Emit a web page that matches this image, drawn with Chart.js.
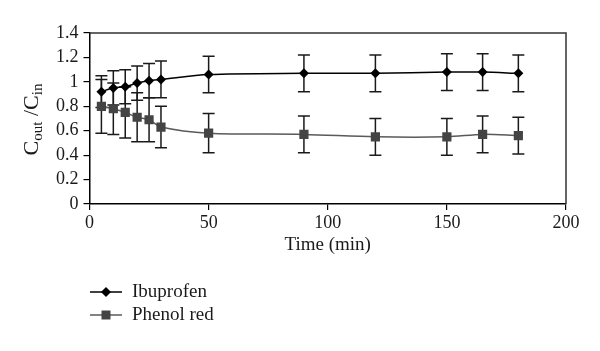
<!DOCTYPE html>
<html>
<head>
<meta charset="utf-8">
<script src="https://cdn.jsdelivr.net/npm/chart.js@4"></script>
<style>
html,body{margin:0;padding:0;background:#fff}
#wrap{width:600px;height:351px;position:relative}
</style>
</head>
<body>
<div id="wrap"><canvas id="c"></canvas></div>
<script>
const times = [5, 10, 15, 20, 25, 30, 50, 90, 120, 150, 165, 180]
const ibuprofen = [0.92, 0.95, 0.96, 0.99, 1.01, 1.02, 1.06, 1.07, 1.07, 1.08, 1.08, 1.07]
const ibuprofenErr = [0.13, 0.14, 0.14, 0.14, 0.14, 0.15, 0.15, 0.15, 0.15, 0.15, 0.15, 0.15]
const phenolRed = [0.80, 0.78, 0.75, 0.71, 0.69, 0.63, 0.58, 0.57, 0.55, 0.55, 0.57, 0.56]
const phenolRedErr = [0.22, 0.21, 0.21, 0.20, 0.18, 0.17, 0.16, 0.15, 0.15, 0.15, 0.15, 0.15]
const xTicks = [0, 50, 100, 150, 200]
const yTicks = [0, 0.2, 0.4, 0.6, 0.8, 1, 1.2, 1.4]

const serif = "'Liberation Serif', 'DejaVu Serif', serif"

function pts(ys){
  return times.map((t, i) => ({x: t, y: ys[i]}))
}

// error bars, plot frame, y title and legend
const extras = {
  id: "extras",
  beforeDatasetsDraw(chart){
    const ctx = chart.ctx
    const xs = chart.scales.x, ys = chart.scales.y
    const sets = [[ibuprofen, ibuprofenErr], [phenolRed, phenolRedErr]]
    ctx.save()
    ctx.strokeStyle = "#1a1a1a"
    ctx.lineWidth = 1.5
    sets.forEach(([vals, errs]) => {
      vals.forEach((v, i) => {
        const px = xs.getPixelForValue(times[i])
        const top = ys.getPixelForValue(v + errs[i])
        const bot = ys.getPixelForValue(v - errs[i])
        ctx.beginPath()
        ctx.moveTo(px, top); ctx.lineTo(px, bot)
        ctx.moveTo(px - 6, top); ctx.lineTo(px + 6, top)
        ctx.moveTo(px - 6, bot); ctx.lineTo(px + 6, bot)
        ctx.stroke()
      })
    })
    ctx.restore()
  },
  afterDraw(chart){
    const ctx = chart.ctx
    const a = chart.chartArea
    ctx.save()
    // frame top/right
    ctx.strokeStyle = "#333"
    ctx.lineWidth = 1.5
    ctx.beginPath()
    ctx.moveTo(a.left, a.top); ctx.lineTo(a.right, a.top); ctx.lineTo(a.right, a.bottom)
    ctx.stroke()

    // y title C_out / C_in
    ctx.translate(38, (a.top + a.bottom) / 2 + 1)
    ctx.rotate(-Math.PI / 2)
    ctx.fillStyle = "#1a1a1a"
    ctx.textBaseline = "alphabetic"
    const big = "22px " + serif, small = "15px " + serif
    const parts = [["C", big, 0], ["out", small, 4], [" /", big, 0], ["C", big, 0], ["in", small, 4]]
    let total = 0
    parts.forEach(p => { ctx.font = p[1]; total += ctx.measureText(p[0]).width })
    let x = -total / 2
    parts.forEach(p => {
      ctx.font = p[1]
      ctx.fillText(p[0], x, p[2])
      x += ctx.measureText(p[0]).width
    })
    ctx.restore()

    // legend
    ctx.save()
    ctx.font = "19px " + serif
    ctx.textBaseline = "middle"
    chart.data.datasets.forEach((ds, i) => {
      const y = 292 + i * 23
      ctx.strokeStyle = ds.borderColor
      ctx.lineWidth = 1.5
      ctx.beginPath(); ctx.moveTo(90, y); ctx.lineTo(122, y); ctx.stroke()
      ctx.fillStyle = ds.pointBackgroundColor
      ctx.beginPath()
      if (ds.pointStyle === "rectRot"){
        ctx.moveTo(106 - 5, y); ctx.lineTo(106, y - 5); ctx.lineTo(106 + 5, y); ctx.lineTo(106, y + 5)
        ctx.closePath()
      } else {
        ctx.rect(106 - 4.5, y - 4.5, 9, 9)
      }
      ctx.fill()
      ctx.fillStyle = "#1a1a1a"
      ctx.fillText(ds.label, 132, y)
    })
    ctx.restore()
  }
}

new Chart(document.getElementById("c"), {
  type: "line",
  data: {
    datasets: [
      {
        label: "Ibuprofen",
        data: pts(ibuprofen),
        borderColor: "#000",
        borderWidth: 1.5,
        pointStyle: "rectRot",
        pointRadius: 5,
        pointBackgroundColor: "#000",
        pointBorderColor: "#000",
        pointBorderWidth: 0,
        tension: 0.3,
        fill: false
      },
      {
        label: "Phenol red",
        data: pts(phenolRed),
        borderColor: "#5a5a5a",
        borderWidth: 1.5,
        pointStyle: "rect",
        pointRadius: 6.5,
        pointBackgroundColor: "#444",
        pointBorderColor: "#444",
        pointBorderWidth: 0,
        tension: 0.3,
        fill: false
      }
    ]
  },
  options: {
    responsive: true,
    maintainAspectRatio: false,
    animation: false,
    layout: {padding: {top: 33, right: 34, bottom: 91, left: 0}},
    plugins: {legend: {display: false}, tooltip: {enabled: false}},
    scales: {
      x: {
        type: "linear",
        min: 0, max: 200,
        afterBuildTicks(s){ s.ticks = xTicks.map(v => ({value: v})) },
        afterFit(s){ s.height = 56 },
        border: {color: "#000", width: 1.5},
        grid: {drawOnChartArea: false, tickLength: 6, color: "#000", lineWidth: 1.2},
        ticks: {color: "#1a1a1a", font: {family: serif, size: 18}, padding: 2, maxRotation: 0, autoSkip: false},
        title: {display: true, text: "Time (min)", color: "#1a1a1a", font: {family: serif, size: 19}, padding: {top: 0, bottom: 4}}
      },
      y: {
        min: 0, max: 1.4,
        afterBuildTicks(s){ s.ticks = yTicks.map(v => ({value: v})) },
        afterFit(s){ s.width = 89.5 },
        border: {color: "#000", width: 1.5},
        grid: {drawOnChartArea: false, tickLength: 6, color: "#000", lineWidth: 1.2},
        ticks: {color: "#1a1a1a", font: {family: serif, size: 18}, padding: 5, autoSkip: false,
          callback: v => String(+v.toFixed(1))}
      }
    }
  },
  plugins: [extras]
})
</script>
</body>
</html>
